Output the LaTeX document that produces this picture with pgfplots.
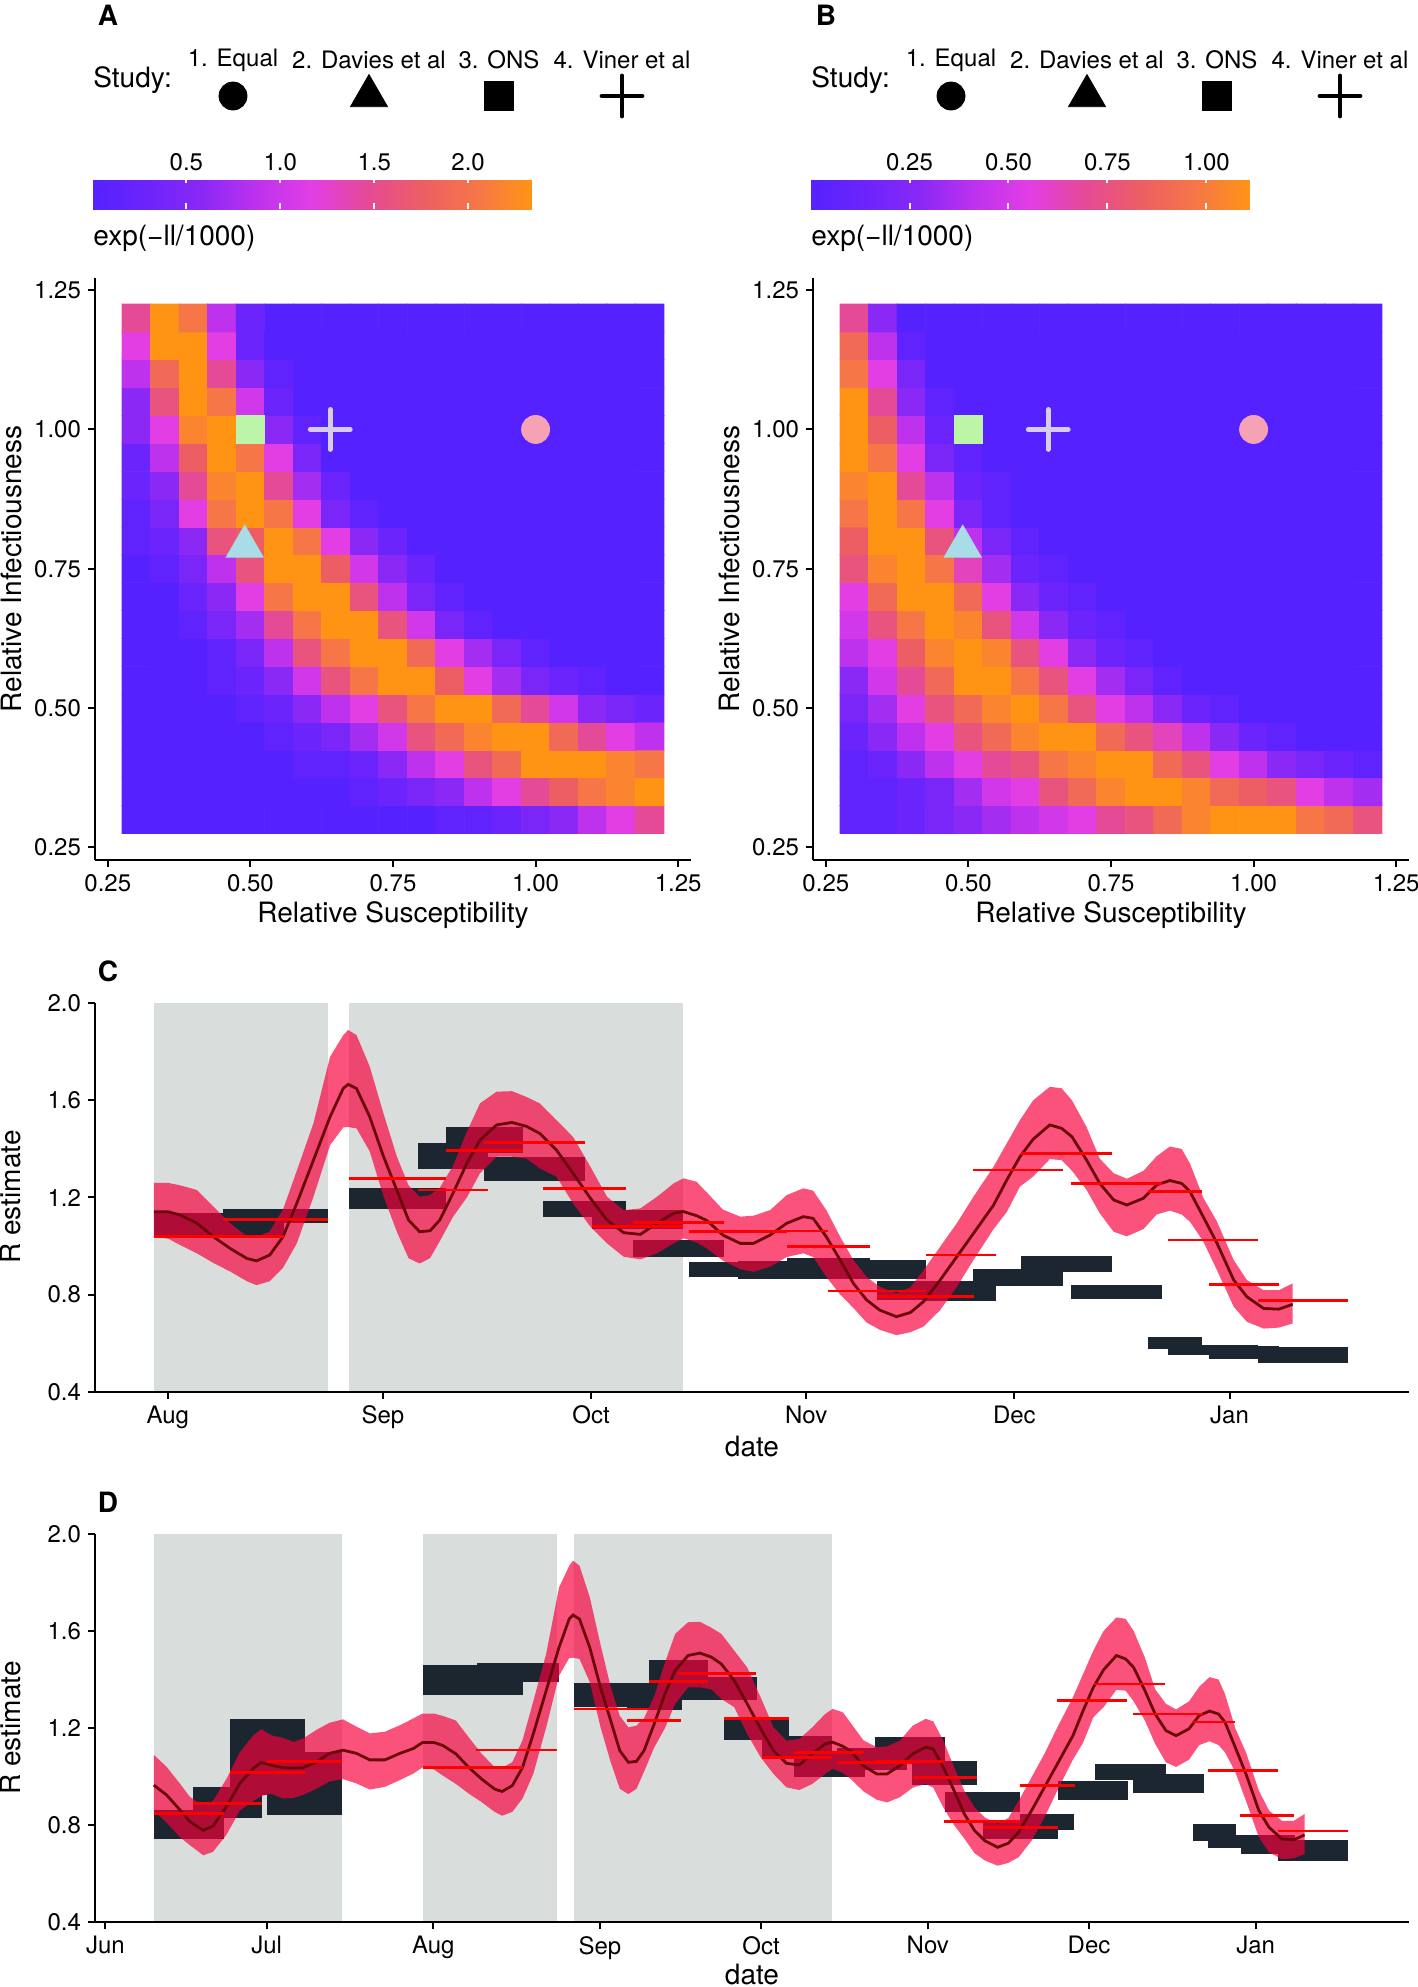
\documentclass[border=0pt]{standalone}
\usepackage{fontspec}
\setmainfont{TeX Gyre Heros}
\usepackage{pgfplots}
\pgfplotsset{compat=1.18}
\usepackage{pgfplotstable}

\definecolor{barc}{RGB}{27,38,48}
\definecolor{shadec}{RGB}{217,222,220}
\definecolor{ribc}{RGB}{248,0,60}
\definecolor{linec}{RGB}{110,8,8}
\definecolor{segc}{RGB}{255,0,0}
\definecolor{eqc}{RGB}{245,163,180}
\definecolor{dvc}{RGB}{168,220,230}
\definecolor{onc}{RGB}{189,245,168}
\definecolor{vic}{RGB}{215,203,238}

\newcommand\ticksize{\fontsize{12}{14}\selectfont}
\newcommand\labsize{\fontsize{14}{17}\selectfont}

\pgfplotsset{
  panel/.style={scale only axis, axis lines*=left,
    axis line style={line width=1.1pt, black},
    tick align=outside, major tick length=3.5pt,
    tick style={line width=1pt, black},
    tick label style={font=\ticksize},
    /pgf/number format/assume math mode=true, axis on top},
  heatcmap/.style={colormap={lik}{rgb255(0cm)=(85,34,255) rgb255(1cm)=(108,36,252)
    rgb255(2cm)=(138,40,246) rgb255(3cm)=(190,50,238) rgb255(4cm)=(226,62,228)
    rgb255(5cm)=(229,74,150) rgb255(6cm)=(236,94,100) rgb255(7cm)=(246,118,72)
    rgb255(8cm)=(255,148,20)}},
  cbar/.style={at={(parent axis.north west)}, anchor=south west,
    xshift=-1.25pt, yshift=42.6pt, scale only axis, width=219.75pt, height=16pt,
    xticklabel pos=upper, xtick pos=both, tick align=inside, major tick length=3pt,
    xtick style={white, line width=1pt}, axis line style={draw=none},
    tick label style={font=\ticksize}, ytick=\empty},
  heatax/.style={panel, anchor=south west, width=298pt, height=291.2pt,
    xmin=0.2275, xmax=1.2725, ymin=0.2275, ymax=1.2725,
    xtick={0.25,0.5,0.75,1,1.25}, ytick={0.25,0.5,0.75,1,1.25},
    xticklabel style={/pgf/number format/.cd, fixed, fixed zerofill, precision=2},
    yticklabel style={/pgf/number format/.cd, fixed, fixed zerofill, precision=2},
    heatcmap, point meta min=0, point meta max=8, colorbar horizontal},
  tsax/.style={panel, anchor=south west, width=657pt, height=194.2pt,
    ymin=0.4, ymax=2.0, ytick={0.4,0.8,1.2,1.6,2.0},
    yticklabel style={/pgf/number format/.cd, fixed, fixed zerofill, precision=1}},
}

\newcommand\blackbar[4]{\addplot[fill=barc, draw=none, forget plot] coordinates {(#1,#3) (#2,#3) (#2,#4) (#1,#4)};}
\newcommand\redseg[3]{\addplot[segc, line width=1.4pt, forget plot] coordinates {(#1,#3) (#2,#3)};}
\newcommand\greyband[2]{\addplot[fill=shadec, draw=none, forget plot] coordinates {(#1,0.4) (#2,0.4) (#2,2.0) (#1,2.0)};}

\pgfplotstableread{
d mid lo hi
-52.0 0.965 0.86 1.09
-49.6 0.924 0.81 1.04
-47.1 0.862 0.75 0.97
-45.3 0.815 0.718 0.917
-42.8 0.779 0.676 0.88
-41.0 0.796 0.69 0.90
-38.5 0.876 0.76 0.99
-36.0 0.972 0.86 1.10
-33.5 1.034 0.90 1.17
-32.0 1.058 0.92 1.195
-30.1 1.047 0.93 1.17
-28.0 1.037 0.91 1.16
-26.0 1.035 0.913 1.143
-24.2 1.037 0.925 1.157
-21.8 1.060 0.95 1.192
-19.3 1.096 0.98 1.222
-16.8 1.109 0.99 1.236
-14.3 1.096 0.972 1.206
-11.8 1.069 0.947 1.178
-9.0 1.069 0.958 1.185
-6.2 1.096 0.986 1.212
-3.7 1.116 1.013 1.240
-2.0 1.141 1.038 1.260
0.1 1.141 1.030 1.260
1.8 1.128 1.004 1.250
4.2 1.094 0.970 1.231
6.6 1.038 0.930 1.162
9.0 0.990 0.895 1.094
11.4 0.949 0.855 1.040
12.8 0.939 0.839 1.036
14.7 0.963 0.855 1.060
16.6 1.038 0.910 1.150
18.6 1.176 1.011 1.310
21.0 1.354 1.203 1.506
23.4 1.533 1.416 1.780
25.3 1.650 1.489 1.869
26.0 1.666 1.490 1.890
27.2 1.649 1.485 1.869
29.1 1.533 1.390 1.740
31.1 1.368 1.205 1.545
33.0 1.231 1.060 1.370
34.7 1.107 0.950 1.250
36.3 1.059 0.928 1.203
37.8 1.063 0.950 1.210
39.2 1.107 1.020 1.240
41.1 1.217 1.120 1.330
43.1 1.341 1.200 1.470
45.0 1.437 1.300 1.588
47.4 1.499 1.368 1.636
49.6 1.509 1.368 1.638
51.7 1.493 1.360 1.614
53.6 1.464 1.320 1.588
56.0 1.396 1.286 1.519
58.4 1.300 1.176 1.450
60.9 1.197 1.080 1.327
63.3 1.107 1.011 1.203
65.7 1.055 0.956 1.148
68.1 1.048 0.945 1.155
70.5 1.094 0.970 1.203
72.9 1.135 1.011 1.258
74.3 1.142 1.032 1.279
76.2 1.125 1.015 1.265
77.7 1.105 0.990 1.220
80.0 1.045 0.940 1.150
82.5 1.011 0.905 1.121
84.4 1.011 0.894 1.125
86.8 1.045 0.915 1.148
89.2 1.094 0.955 1.210
91.6 1.121 0.970 1.238
93.0 1.114 0.955 1.228
94.9 1.038 0.873 1.148
96.9 0.942 0.800 1.038
98.8 0.846 0.745 0.942
100.7 0.778 0.685 0.873
102.6 0.736 0.655 0.832
105.0 0.709 0.633 0.805
107.0 0.726 0.645 0.830
108.9 0.771 0.668 0.900
111.3 0.860 0.736 0.997
113.7 0.956 0.832 1.094
116.1 1.052 0.942 1.203
119.0 1.169 1.070 1.327
120.9 1.272 1.140 1.423
122.8 1.368 1.245 1.519
124.7 1.440 1.286 1.600
127.1 1.499 1.358 1.656
128.8 1.485 1.354 1.650
130.3 1.450 1.310 1.600
132.4 1.354 1.231 1.490
134.3 1.258 1.135 1.360
136.3 1.190 1.059 1.300
138.2 1.169 1.040 1.277
140.6 1.197 1.070 1.310
142.5 1.252 1.130 1.370
144.4 1.270 1.146 1.410
146.1 1.258 1.130 1.400
147.3 1.224 1.100 1.340
149.2 1.121 1.020 1.200
151.2 1.011 0.900 1.100
153.6 0.860 0.750 0.942
155.5 0.791 0.688 0.860
157.9 0.743 0.660 0.818
160.1 0.740 0.664 0.818
162.1 0.760 0.681 0.846
}\model

\begin{document}
\begin{tikzpicture}
\useasboundingbox (0,0) rectangle (709pt,993.5pt);

% ---------------- Panel A ----------------
\begin{axis}[heatax, at={(47.5pt,563.5pt)},
  colorbar style={cbar, xtick={1.709,3.419,5.128,6.838}, xticklabels={0.5,1.0,1.5,2.0}}]
\addplot[matrix plot*, mesh/cols=19, point meta=explicit] coordinates {
(0.30,0.30)[0] (0.35,0.30)[0] (0.40,0.30)[0] (0.45,0.30)[0] (0.50,0.30)[0] (0.55,0.30)[0] (0.60,0.30)[0] (0.65,0.30)[0] (0.70,0.30)[0] (0.75,0.30)[0] (0.80,0.30)[0] (0.85,0.30)[0.5] (0.90,0.30)[0.5] (0.95,0.30)[1] (1.00,0.30)[1.5] (1.05,0.30)[2] (1.10,0.30)[3] (1.15,0.30)[4] (1.20,0.30)[5]
(0.30,0.35)[0] (0.35,0.35)[0] (0.40,0.35)[0] (0.45,0.35)[0] (0.50,0.35)[0] (0.55,0.35)[0] (0.60,0.35)[0] (0.65,0.35)[0] (0.70,0.35)[0.5] (0.75,0.35)[1] (0.80,0.35)[1.5] (0.85,0.35)[2] (0.90,0.35)[3] (0.95,0.35)[4] (1.00,0.35)[5] (1.05,0.35)[6] (1.10,0.35)[7] (1.15,0.35)[7.5] (1.20,0.35)[8]
(0.30,0.40)[0] (0.35,0.40)[0] (0.40,0.40)[0] (0.45,0.40)[0] (0.50,0.40)[0] (0.55,0.40)[0] (0.60,0.40)[0.5] (0.65,0.40)[0.5] (0.70,0.40)[1] (0.75,0.40)[2] (0.80,0.40)[3] (0.85,0.40)[4] (0.90,0.40)[5.5] (0.95,0.40)[6.5] (1.00,0.40)[8] (1.05,0.40)[8] (1.10,0.40)[8] (1.15,0.40)[7.5] (1.20,0.40)[7]
(0.30,0.45)[0] (0.35,0.45)[0] (0.40,0.45)[0] (0.45,0.45)[0] (0.50,0.45)[0] (0.55,0.45)[0.5] (0.60,0.45)[1] (0.65,0.45)[1.5] (0.70,0.45)[2.5] (0.75,0.45)[3.5] (0.80,0.45)[5.5] (0.85,0.45)[6.5] (0.90,0.45)[7.5] (0.95,0.45)[8] (1.00,0.45)[8] (1.05,0.45)[6.5] (1.10,0.45)[5] (1.15,0.45)[4] (1.20,0.45)[3]
(0.30,0.50)[0] (0.35,0.50)[0] (0.40,0.50)[0] (0.45,0.50)[0] (0.50,0.50)[0.5] (0.55,0.50)[1] (0.60,0.50)[2] (0.65,0.50)[3] (0.70,0.50)[4] (0.75,0.50)[5.5] (0.80,0.50)[7] (0.85,0.50)[8] (0.90,0.50)[8] (0.95,0.50)[6.5] (1.00,0.50)[5] (1.05,0.50)[3.5] (1.10,0.50)[2] (1.15,0.50)[1.5] (1.20,0.50)[1]
(0.30,0.55)[0] (0.35,0.55)[0] (0.40,0.55)[0] (0.45,0.55)[0.5] (0.50,0.55)[1] (0.55,0.55)[2] (0.60,0.55)[3.5] (0.65,0.55)[5.5] (0.70,0.55)[7] (0.75,0.55)[8] (0.80,0.55)[8] (0.85,0.55)[6] (0.90,0.55)[4] (0.95,0.55)[2.5] (1.00,0.55)[1.5] (1.05,0.55)[1] (1.10,0.55)[0.5] (1.15,0.55)[0] (1.20,0.55)[0]
(0.30,0.60)[0] (0.35,0.60)[0] (0.40,0.60)[0] (0.45,0.60)[0.5] (0.50,0.60)[1.5] (0.55,0.60)[3] (0.60,0.60)[5.5] (0.65,0.60)[7] (0.70,0.60)[8] (0.75,0.60)[8] (0.80,0.60)[6.5] (0.85,0.60)[4] (0.90,0.60)[2.5] (0.95,0.60)[1.5] (1.00,0.60)[0.5] (1.05,0.60)[0] (1.10,0.60)[0] (1.15,0.60)[0] (1.20,0.60)[0]
(0.30,0.65)[0] (0.35,0.65)[0] (0.40,0.65)[0.5] (0.45,0.65)[1.5] (0.50,0.65)[2.5] (0.55,0.65)[5] (0.60,0.65)[7] (0.65,0.65)[8] (0.70,0.65)[8] (0.75,0.65)[5.5] (0.80,0.65)[3.5] (0.85,0.65)[1.5] (0.90,0.65)[0.5] (0.95,0.65)[0] (1.00,0.65)[0] (1.05,0.65)[0] (1.10,0.65)[0] (1.15,0.65)[0] (1.20,0.65)[0]
(0.30,0.70)[0] (0.35,0.70)[0] (0.40,0.70)[1] (0.45,0.70)[2] (0.50,0.70)[4] (0.55,0.70)[7] (0.60,0.70)[8] (0.65,0.70)[8] (0.70,0.70)[5.5] (0.75,0.70)[3] (0.80,0.70)[1.5] (0.85,0.70)[0.5] (0.90,0.70)[0] (0.95,0.70)[0] (1.00,0.70)[0] (1.05,0.70)[0] (1.10,0.70)[0] (1.15,0.70)[0] (1.20,0.70)[0]
(0.30,0.75)[0] (0.35,0.75)[0.5] (0.40,0.75)[1.5] (0.45,0.75)[3] (0.50,0.75)[5.5] (0.55,0.75)[8] (0.60,0.75)[8] (0.65,0.75)[6] (0.70,0.75)[3.5] (0.75,0.75)[2] (0.80,0.75)[1] (0.85,0.75)[0] (0.90,0.75)[0] (0.95,0.75)[0] (1.00,0.75)[0] (1.05,0.75)[0] (1.10,0.75)[0] (1.15,0.75)[0] (1.20,0.75)[0]
(0.30,0.80)[0.5] (0.35,0.80)[1] (0.40,0.80)[2] (0.45,0.80)[5.5] (0.50,0.80)[6] (0.55,0.80)[8] (0.60,0.80)[7] (0.65,0.80)[4] (0.70,0.80)[2] (0.75,0.80)[1] (0.80,0.80)[0] (0.85,0.80)[0] (0.90,0.80)[0] (0.95,0.80)[0] (1.00,0.80)[0] (1.05,0.80)[0] (1.10,0.80)[0] (1.15,0.80)[0] (1.20,0.80)[0]
(0.30,0.85)[0.5] (0.35,0.85)[1.5] (0.40,0.85)[4] (0.45,0.85)[7] (0.50,0.85)[8] (0.55,0.85)[7] (0.60,0.85)[4] (0.65,0.85)[1.5] (0.70,0.85)[0.5] (0.75,0.85)[0] (0.80,0.85)[0] (0.85,0.85)[0] (0.90,0.85)[0] (0.95,0.85)[0] (1.00,0.85)[0] (1.05,0.85)[0] (1.10,0.85)[0] (1.15,0.85)[0] (1.20,0.85)[0]
(0.30,0.90)[1] (0.35,0.90)[2] (0.40,0.90)[5] (0.45,0.90)[7.5] (0.50,0.90)[8] (0.55,0.90)[5] (0.60,0.90)[2.5] (0.65,0.90)[1] (0.70,0.90)[0] (0.75,0.90)[0] (0.80,0.90)[0] (0.85,0.90)[0] (0.90,0.90)[0] (0.95,0.90)[0] (1.00,0.90)[0] (1.05,0.90)[0] (1.10,0.90)[0] (1.15,0.90)[0] (1.20,0.90)[0]
(0.30,0.95)[1] (0.35,0.95)[3] (0.40,0.95)[6] (0.45,0.95)[8] (0.50,0.95)[7] (0.55,0.95)[4] (0.60,0.95)[1.5] (0.65,0.95)[0] (0.70,0.95)[0] (0.75,0.95)[0] (0.80,0.95)[0] (0.85,0.95)[0] (0.90,0.95)[0] (0.95,0.95)[0] (1.00,0.95)[0] (1.05,0.95)[0] (1.10,0.95)[0] (1.15,0.95)[0] (1.20,0.95)[0]
(0.30,1.00)[2] (0.35,1.00)[4] (0.40,1.00)[7.5] (0.45,1.00)[8] (0.50,1.00)[7.5] (0.55,1.00)[2] (0.60,1.00)[0.5] (0.65,1.00)[0] (0.70,1.00)[0] (0.75,1.00)[0] (0.80,1.00)[0] (0.85,1.00)[0] (0.90,1.00)[0] (0.95,1.00)[0] (1.00,1.00)[0] (1.05,1.00)[0] (1.10,1.00)[0] (1.15,1.00)[0] (1.20,1.00)[0]
(0.30,1.05)[2] (0.35,1.05)[5.5] (0.40,1.05)[8] (0.45,1.05)[7] (0.50,1.05)[3.5] (0.55,1.05)[1] (0.60,1.05)[0] (0.65,1.05)[0] (0.70,1.05)[0] (0.75,1.05)[0] (0.80,1.05)[0] (0.85,1.05)[0] (0.90,1.05)[0] (0.95,1.05)[0] (1.00,1.05)[0] (1.05,1.05)[0] (1.10,1.05)[0] (1.15,1.05)[0] (1.20,1.05)[0]
(0.30,1.10)[3] (0.35,1.10)[6.5] (0.40,1.10)[8] (0.45,1.10)[5] (0.50,1.10)[2] (0.55,1.10)[0.5] (0.60,1.10)[0] (0.65,1.10)[0] (0.70,1.10)[0] (0.75,1.10)[0] (0.80,1.10)[0] (0.85,1.10)[0] (0.90,1.10)[0] (0.95,1.10)[0] (1.00,1.10)[0] (1.05,1.10)[0] (1.10,1.10)[0] (1.15,1.10)[0] (1.20,1.10)[0]
(0.30,1.15)[4] (0.35,1.15)[8] (0.40,1.15)[8] (0.45,1.15)[4] (0.50,1.15)[1] (0.55,1.15)[0] (0.60,1.15)[0] (0.65,1.15)[0] (0.70,1.15)[0] (0.75,1.15)[0] (0.80,1.15)[0] (0.85,1.15)[0] (0.90,1.15)[0] (0.95,1.15)[0] (1.00,1.15)[0] (1.05,1.15)[0] (1.10,1.15)[0] (1.15,1.15)[0] (1.20,1.15)[0]
(0.30,1.20)[5] (0.35,1.20)[8] (0.40,1.20)[7] (0.45,1.20)[3] (0.50,1.20)[1] (0.55,1.20)[0] (0.60,1.20)[0] (0.65,1.20)[0] (0.70,1.20)[0] (0.75,1.20)[0] (0.80,1.20)[0] (0.85,1.20)[0] (0.90,1.20)[0] (0.95,1.20)[0] (1.00,1.20)[0] (1.05,1.20)[0] (1.10,1.20)[0] (1.15,1.20)[0] (1.20,1.20)[0]
};
\addplot[only marks, mark=*, mark size=7pt, color=eqc] coordinates {(1.0,1.0)};
\addplot[only marks, mark=triangle*, mark size=10.7pt, color=dvc] coordinates {(0.49,0.79)};
\addplot[only marks, mark=square*, mark size=7.1pt, color=onc] coordinates {(0.50,1.0)};
\addplot[only marks, mark=+, mark size=10pt, color=vic, mark options={line width=2.4pt, line cap=round}] coordinates {(0.64,1.0)};
\end{axis}

% ---------------- Panel B ----------------
\begin{axis}[heatax, at={(406.5pt,563.5pt)},
  colorbar style={cbar, xtick={1.802,3.604,5.405,7.207}, xticklabels={0.25,0.50,0.75,1.00}}]
\addplot[matrix plot*, mesh/cols=19, point meta=explicit] coordinates {
(0.30,0.30)[0.5] (0.35,0.30)[0.5] (0.40,0.30)[1] (0.45,0.30)[1.5] (0.50,0.30)[2] (0.55,0.30)[2.5] (0.60,0.30)[3] (0.65,0.30)[3.5] (0.70,0.30)[4] (0.75,0.30)[5] (0.80,0.30)[5.5] (0.85,0.30)[6.5] (0.90,0.30)[7.5] (0.95,0.30)[8] (1.00,0.30)[8] (1.05,0.30)[8] (1.10,0.30)[7] (1.15,0.30)[6.5] (1.20,0.30)[5.5]
(0.30,0.35)[0.5] (0.35,0.35)[0.5] (0.40,0.35)[1] (0.45,0.35)[1.5] (0.50,0.35)[2.5] (0.55,0.35)[3.5] (0.60,0.35)[4] (0.65,0.35)[5.5] (0.70,0.35)[6.5] (0.75,0.35)[7.5] (0.80,0.35)[8] (0.85,0.35)[8] (0.90,0.35)[7.5] (0.95,0.35)[6.5] (1.00,0.35)[6] (1.05,0.35)[5.5] (1.10,0.35)[4] (1.15,0.35)[3] (1.20,0.35)[2.5]
(0.30,0.40)[0.5] (0.35,0.40)[1] (0.40,0.40)[2] (0.45,0.40)[3] (0.50,0.40)[4] (0.55,0.40)[5] (0.60,0.40)[5.5] (0.65,0.40)[7] (0.70,0.40)[7.5] (0.75,0.40)[8] (0.80,0.40)[8] (0.85,0.40)[6.5] (0.90,0.40)[5.5] (0.95,0.40)[4] (1.00,0.40)[3] (1.05,0.40)[2] (1.10,0.40)[1.5] (1.15,0.40)[1] (1.20,0.40)[0.5]
(0.30,0.45)[1] (0.35,0.45)[2] (0.40,0.45)[3] (0.45,0.45)[4] (0.50,0.45)[5.5] (0.55,0.45)[6.5] (0.60,0.45)[7.5] (0.65,0.45)[8] (0.70,0.45)[8] (0.75,0.45)[6.5] (0.80,0.45)[5.5] (0.85,0.45)[4.5] (0.90,0.45)[3] (0.95,0.45)[2] (1.00,0.45)[1] (1.05,0.45)[0.5] (1.10,0.45)[0] (1.15,0.45)[0] (1.20,0.45)[0]
(0.30,0.50)[1.5] (0.35,0.50)[2.5] (0.40,0.50)[4] (0.45,0.50)[5.5] (0.50,0.50)[6.5] (0.55,0.50)[7.5] (0.60,0.50)[8] (0.65,0.50)[7] (0.70,0.50)[5.5] (0.75,0.50)[4] (0.80,0.50)[3] (0.85,0.50)[2] (0.90,0.50)[1] (0.95,0.50)[0.5] (1.00,0.50)[0] (1.05,0.50)[0] (1.10,0.50)[0] (1.15,0.50)[0] (1.20,0.50)[0]
(0.30,0.55)[2] (0.35,0.55)[3.5] (0.40,0.55)[5] (0.45,0.55)[6.5] (0.50,0.55)[8] (0.55,0.55)[8] (0.60,0.55)[7] (0.65,0.55)[5.5] (0.70,0.55)[4] (0.75,0.55)[2.5] (0.80,0.55)[1.5] (0.85,0.55)[0.5] (0.90,0.55)[0] (0.95,0.55)[0] (1.00,0.55)[0] (1.05,0.55)[0] (1.10,0.55)[0] (1.15,0.55)[0] (1.20,0.55)[0]
(0.30,0.60)[3] (0.35,0.60)[4] (0.40,0.60)[6] (0.45,0.60)[7.5] (0.50,0.60)[8] (0.55,0.60)[7.5] (0.60,0.60)[5.5] (0.65,0.60)[4] (0.70,0.60)[2] (0.75,0.60)[1] (0.80,0.60)[0.5] (0.85,0.60)[0] (0.90,0.60)[0] (0.95,0.60)[0] (1.00,0.60)[0] (1.05,0.60)[0] (1.10,0.60)[0] (1.15,0.60)[0] (1.20,0.60)[0]
(0.30,0.65)[3.5] (0.35,0.65)[5.5] (0.40,0.65)[7] (0.45,0.65)[8] (0.50,0.65)[7.5] (0.55,0.65)[5.5] (0.60,0.65)[3.5] (0.65,0.65)[2] (0.70,0.65)[1] (0.75,0.65)[0.5] (0.80,0.65)[0] (0.85,0.65)[0] (0.90,0.65)[0] (0.95,0.65)[0] (1.00,0.65)[0] (1.05,0.65)[0] (1.10,0.65)[0] (1.15,0.65)[0] (1.20,0.65)[0]
(0.30,0.70)[4] (0.35,0.70)[6.5] (0.40,0.70)[8] (0.45,0.70)[8] (0.50,0.70)[6.5] (0.55,0.70)[4] (0.60,0.70)[2] (0.65,0.70)[1] (0.70,0.70)[0.5] (0.75,0.70)[0] (0.80,0.70)[0] (0.85,0.70)[0] (0.90,0.70)[0] (0.95,0.70)[0] (1.00,0.70)[0] (1.05,0.70)[0] (1.10,0.70)[0] (1.15,0.70)[0] (1.20,0.70)[0]
(0.30,0.75)[5.5] (0.35,0.75)[7.5] (0.40,0.75)[8] (0.45,0.75)[7] (0.50,0.75)[4.5] (0.55,0.75)[2.5] (0.60,0.75)[1] (0.65,0.75)[0.5] (0.70,0.75)[0] (0.75,0.75)[0] (0.80,0.75)[0] (0.85,0.75)[0] (0.90,0.75)[0] (0.95,0.75)[0] (1.00,0.75)[0] (1.05,0.75)[0] (1.10,0.75)[0] (1.15,0.75)[0] (1.20,0.75)[0]
(0.30,0.80)[6] (0.35,0.80)[8] (0.40,0.80)[8] (0.45,0.80)[5.5] (0.50,0.80)[3] (0.55,0.80)[1.5] (0.60,0.80)[0.5] (0.65,0.80)[0] (0.70,0.80)[0] (0.75,0.80)[0] (0.80,0.80)[0] (0.85,0.80)[0] (0.90,0.80)[0] (0.95,0.80)[0] (1.00,0.80)[0] (1.05,0.80)[0] (1.10,0.80)[0] (1.15,0.80)[0] (1.20,0.80)[0]
(0.30,0.85)[7] (0.35,0.85)[8] (0.40,0.85)[7] (0.45,0.85)[4] (0.50,0.85)[1.5] (0.55,0.85)[0.5] (0.60,0.85)[0] (0.65,0.85)[0] (0.70,0.85)[0] (0.75,0.85)[0] (0.80,0.85)[0] (0.85,0.85)[0] (0.90,0.85)[0] (0.95,0.85)[0] (1.00,0.85)[0] (1.05,0.85)[0] (1.10,0.85)[0] (1.15,0.85)[0] (1.20,0.85)[0]
(0.30,0.90)[7.5] (0.35,0.90)[8] (0.40,0.90)[5] (0.45,0.90)[3] (0.50,0.90)[1] (0.55,0.90)[0.5] (0.60,0.90)[0] (0.65,0.90)[0] (0.70,0.90)[0] (0.75,0.90)[0] (0.80,0.90)[0] (0.85,0.90)[0] (0.90,0.90)[0] (0.95,0.90)[0] (1.00,0.90)[0] (1.05,0.90)[0] (1.10,0.90)[0] (1.15,0.90)[0] (1.20,0.90)[0]
(0.30,0.95)[8] (0.35,0.95)[7] (0.40,0.95)[4] (0.45,0.95)[1.5] (0.50,0.95)[0.5] (0.55,0.95)[0] (0.60,0.95)[0] (0.65,0.95)[0] (0.70,0.95)[0] (0.75,0.95)[0] (0.80,0.95)[0] (0.85,0.95)[0] (0.90,0.95)[0] (0.95,0.95)[0] (1.00,0.95)[0] (1.05,0.95)[0] (1.10,0.95)[0] (1.15,0.95)[0] (1.20,0.95)[0]
(0.30,1.00)[8] (0.35,1.00)[6] (0.40,1.00)[3] (0.45,1.00)[1] (0.50,1.00)[0.5] (0.55,1.00)[0] (0.60,1.00)[0] (0.65,1.00)[0] (0.70,1.00)[0] (0.75,1.00)[0] (0.80,1.00)[0] (0.85,1.00)[0] (0.90,1.00)[0] (0.95,1.00)[0] (1.00,1.00)[0] (1.05,1.00)[0] (1.10,1.00)[0] (1.15,1.00)[0] (1.20,1.00)[0]
(0.30,1.05)[8] (0.35,1.05)[5] (0.40,1.05)[2] (0.45,1.05)[0.5] (0.50,1.05)[0] (0.55,1.05)[0] (0.60,1.05)[0] (0.65,1.05)[0] (0.70,1.05)[0] (0.75,1.05)[0] (0.80,1.05)[0] (0.85,1.05)[0] (0.90,1.05)[0] (0.95,1.05)[0] (1.00,1.05)[0] (1.05,1.05)[0] (1.10,1.05)[0] (1.15,1.05)[0] (1.20,1.05)[0]
(0.30,1.10)[7] (0.35,1.10)[4] (0.40,1.10)[1.5] (0.45,1.10)[0] (0.50,1.10)[0] (0.55,1.10)[0] (0.60,1.10)[0] (0.65,1.10)[0] (0.70,1.10)[0] (0.75,1.10)[0] (0.80,1.10)[0] (0.85,1.10)[0] (0.90,1.10)[0] (0.95,1.10)[0] (1.00,1.10)[0] (1.05,1.10)[0] (1.10,1.10)[0] (1.15,1.10)[0] (1.20,1.10)[0]
(0.30,1.15)[6.5] (0.35,1.15)[3] (0.40,1.15)[0.5] (0.45,1.15)[0] (0.50,1.15)[0] (0.55,1.15)[0] (0.60,1.15)[0] (0.65,1.15)[0] (0.70,1.15)[0] (0.75,1.15)[0] (0.80,1.15)[0] (0.85,1.15)[0] (0.90,1.15)[0] (0.95,1.15)[0] (1.00,1.15)[0] (1.05,1.15)[0] (1.10,1.15)[0] (1.15,1.15)[0] (1.20,1.15)[0]
(0.30,1.20)[5] (0.35,1.20)[2] (0.40,1.20)[0] (0.45,1.20)[0] (0.50,1.20)[0] (0.55,1.20)[0] (0.60,1.20)[0] (0.65,1.20)[0] (0.70,1.20)[0] (0.75,1.20)[0] (0.80,1.20)[0] (0.85,1.20)[0] (0.90,1.20)[0] (0.95,1.20)[0] (1.00,1.20)[0] (1.05,1.20)[0] (1.10,1.20)[0] (1.15,1.20)[0] (1.20,1.20)[0]
};
\addplot[only marks, mark=*, mark size=7pt, color=eqc] coordinates {(1.0,1.0)};
\addplot[only marks, mark=triangle*, mark size=10.7pt, color=dvc] coordinates {(0.49,0.79)};
\addplot[only marks, mark=square*, mark size=7.1pt, color=onc] coordinates {(0.50,1.0)};
\addplot[only marks, mark=+, mark size=10pt, color=vic, mark options={line width=2.4pt, line cap=round}] coordinates {(0.64,1.0)};
\end{axis}

% ---------------- Panel C ----------------
\begin{axis}[tsax, at={(47.5pt,297.65pt)}, xmin=-10.48, xmax=178.86,
  xtick={0,31,61,92,122,153}, xticklabels={Aug,Sep,Oct,Nov,Dec,Jan}]
\greyband{-2.0}{23.1}
\greyband{26.1}{74.2}
\blackbar{-2.0}{16.7}{1.038}{1.135}
\blackbar{8.0}{23.1}{1.094}{1.151}
\blackbar{26.1}{40.1}{1.151}{1.238}
\blackbar{36.1}{46.1}{1.316}{1.426}
\blackbar{40.1}{51.2}{1.382}{1.492}
\blackbar{45.6}{60.1}{1.269}{1.368}
\blackbar{54.1}{66.1}{1.118}{1.187}
\blackbar{61.1}{74.2}{1.069}{1.148}
\blackbar{67.1}{80.1}{0.956}{1.025}
\blackbar{75.1}{89.2}{0.873}{0.935}
\blackbar{82.1}{95.1}{0.863}{0.939}
\blackbar{89.2}{101.2}{0.863}{0.950}
\blackbar{95.1}{109.2}{0.863}{0.942}
\blackbar{102.2}{116.2}{0.778}{0.857}
\blackbar{109.2}{119.3}{0.775}{0.853}
\blackbar{116.1}{129.0}{0.835}{0.904}
\blackbar{123.0}{136.1}{0.894}{0.959}
\blackbar{130.1}{143.2}{0.780}{0.839}
\blackbar{141.2}{149.1}{0.576}{0.626}
\blackbar{144.2}{157.1}{0.551}{0.592}
\blackbar{150.1}{160.1}{0.533}{0.588}
\blackbar{157.1}{170.1}{0.519}{0.583}
\addplot[draw=none, forget plot, stack plots=y, restrict x to domain=-2.05:200] table[x=d,y=lo]{\model};
\addplot[fill=ribc, fill opacity=0.68, draw=none, forget plot, stack plots=y, restrict x to domain=-2.05:200] table[x=d,y expr=\thisrow{hi}-\thisrow{lo}]{\model} \closedcycle;
\addplot[linec, line width=1.4pt, restrict x to domain=-2.05:200] table[x=d,y=mid]{\model};
\redseg{-2.0}{16.7}{1.038}
\redseg{8.0}{23.1}{1.110}
\redseg{26.1}{40.1}{1.279}
\redseg{36.1}{46.1}{1.231}
\redseg{40.1}{51.2}{1.393}
\redseg{45.6}{60.1}{1.426}
\redseg{54.1}{66.1}{1.238}
\redseg{61.1}{74.2}{1.080}
\redseg{67.1}{80.1}{1.098}
\redseg{75.1}{89.2}{1.059}
\redseg{82.1}{95.1}{1.062}
\redseg{89.2}{101.2}{0.997}
\redseg{95.1}{109.2}{0.815}
\redseg{102.2}{116.2}{0.791}
\redseg{109.2}{119.3}{0.963}
\redseg{116.1}{129.0}{1.313}
\redseg{123.0}{136.1}{1.382}
\redseg{130.1}{143.2}{1.258}
\redseg{141.2}{149.1}{1.225}
\redseg{144.2}{157.1}{1.025}
\redseg{150.1}{160.1}{0.841}
\redseg{157.1}{170.1}{0.776}
\end{axis}

% ---------------- Panel D ----------------
\begin{axis}[tsax, at={(47.5pt,32.35pt)}, xmin=-62.94, xmax=181.53,
  xtick={-61,-31,0,31,61,92,122,153}, xticklabels={Jun,Jul,Aug,Sep,Oct,Nov,Dec,Jan}]
\greyband{-52.0}{-16.9}
\greyband{-1.9}{23.1}
\greyband{26.2}{74.2}
\blackbar{-52.0}{-38.9}{0.745}{0.862}
\blackbar{-44.8}{-31.9}{0.830}{0.958}
\blackbar{-37.8}{-23.9}{0.924}{1.237}
\blackbar{-30.9}{-16.9}{0.841}{1.102}
\blackbar{-1.9}{16.7}{1.336}{1.460}
\blackbar{8.1}{23.3}{1.391}{1.469}
\blackbar{26.2}{40.1}{1.285}{1.384}
\blackbar{36.1}{46.2}{1.274}{1.378}
\blackbar{40.2}{51.2}{1.378}{1.480}
\blackbar{46.2}{60.2}{1.315}{1.412}
\blackbar{54.1}{66.2}{1.153}{1.240}
\blackbar{61.2}{74.2}{1.082}{1.167}
\blackbar{67.1}{80.3}{0.997}{1.096}
\blackbar{75.2}{88.2}{1.027}{1.116}
\blackbar{82.2}{95.2}{1.054}{1.162}
\blackbar{89.1}{101.1}{0.965}{1.064}
\blackbar{95.2}{109.2}{0.855}{0.937}
\blackbar{102.2}{116.2}{0.745}{0.814}
\blackbar{109.2}{119.2}{0.779}{0.845}
\blackbar{116.3}{129.2}{0.903}{0.981}
\blackbar{123.2}{136.3}{0.986}{1.052}
\blackbar{130.2}{143.3}{0.931}{1.009}
\blackbar{141.3}{149.3}{0.735}{0.803}
\blackbar{144.2}{157.2}{0.708}{0.759}
\blackbar{150.2}{160.3}{0.683}{0.759}
\blackbar{157.2}{170.2}{0.653}{0.741}
\addplot[draw=none, forget plot, stack plots=y] table[x=d,y=lo]{\model};
\addplot[fill=ribc, fill opacity=0.68, draw=none, forget plot, stack plots=y] table[x=d,y expr=\thisrow{hi}-\thisrow{lo}]{\model} \closedcycle;
\addplot[linec, line width=1.4pt] table[x=d,y=mid]{\model};
\redseg{-52.0}{-38.9}{0.848}
\redseg{-44.8}{-31.9}{0.889}
\redseg{-37.8}{-23.9}{1.016}
\redseg{-30.9}{-16.9}{1.061}
\redseg{-2.0}{16.7}{1.038}
\redseg{8.0}{23.1}{1.110}
\redseg{26.1}{40.1}{1.279}
\redseg{36.1}{46.1}{1.231}
\redseg{40.1}{51.2}{1.393}
\redseg{45.6}{60.1}{1.426}
\redseg{54.1}{66.1}{1.238}
\redseg{61.1}{74.2}{1.080}
\redseg{67.1}{80.1}{1.098}
\redseg{75.1}{89.2}{1.059}
\redseg{82.1}{95.1}{1.062}
\redseg{89.2}{101.2}{0.997}
\redseg{95.1}{109.2}{0.815}
\redseg{102.2}{116.2}{0.791}
\redseg{109.2}{119.3}{0.963}
\redseg{116.1}{129.0}{1.313}
\redseg{123.0}{136.1}{1.382}
\redseg{130.1}{143.2}{1.258}
\redseg{141.2}{149.1}{1.225}
\redseg{144.2}{157.1}{1.025}
\redseg{150.1}{160.1}{0.841}
\redseg{157.1}{170.1}{0.776}
\end{axis}

% ---------------- Canvas (pixel coordinates) ----------------
\begin{axis}[at={(0pt,0pt)}, anchor=south west, scale only axis, width=709pt, height=993.5pt,
  xmin=0, xmax=1418, ymin=0, ymax=1987, y dir=reverse, hide axis, clip=false]
\addplot[only marks, mark=*, mark size=7pt, black] coordinates {(233,96) (951,96)};
\addplot[only marks, mark=triangle*, mark size=10.7pt, black] coordinates {(369,96) (1087,96)};
\addplot[only marks, mark=square*, mark size=7.1pt, black] coordinates {(499,96) (1217,96)};
\addplot[only marks, mark=+, mark size=10pt, black, mark options={line width=2.4pt, line cap=round}] coordinates {(622,96) (1340,96)};
\node[font=\labsize\bfseries] at (axis cs:108,15) {A};
\node[font=\labsize\bfseries] at (axis cs:826,15) {B};
\node[font=\labsize\bfseries] at (axis cs:108,971) {C};
\node[font=\labsize\bfseries] at (axis cs:108,1502) {D};
\node[font=\labsize, anchor=west, inner sep=0pt] at (axis cs:93,80) {Study:};
\node[font=\labsize, anchor=west, inner sep=0pt] at (axis cs:811,80) {Study:};
\node[font=\ticksize] at (axis cs:233,60) {1. Equal};
\node[font=\ticksize] at (axis cs:369,60) {2. Davies et al};
\node[font=\ticksize] at (axis cs:499,60) {3. ONS};
\node[font=\ticksize] at (axis cs:622,60) {4. Viner et al};
\node[font=\ticksize] at (axis cs:951,60) {1. Equal};
\node[font=\ticksize] at (axis cs:1087,60) {2. Davies et al};
\node[font=\ticksize] at (axis cs:1217,60) {3. ONS};
\node[font=\ticksize] at (axis cs:1340,60) {4. Viner et al};
\node[font=\labsize, anchor=west, inner sep=0pt] at (axis cs:93,238) {exp(\textminus ll/1000)};
\node[font=\labsize, anchor=west, inner sep=0pt] at (axis cs:811,238) {exp(\textminus ll/1000)};
\node[font=\labsize] at (axis cs:393,915) {Relative Susceptibility};
\node[font=\labsize] at (axis cs:1111,915) {Relative Susceptibility};
\node[font=\labsize, rotate=90] at (axis cs:11,569) {Relative Infectiousness};
\node[font=\labsize, rotate=90] at (axis cs:729,569) {Relative Infectiousness};
\node[font=\labsize, rotate=90] at (axis cs:11,1197) {R estimate};
\node[font=\labsize, rotate=90] at (axis cs:11,1728) {R estimate};
\node[font=\labsize] at (axis cs:752,1446) {date};
\node[font=\labsize] at (axis cs:752,1974) {date};
\end{axis}
\end{tikzpicture}
\end{document}
